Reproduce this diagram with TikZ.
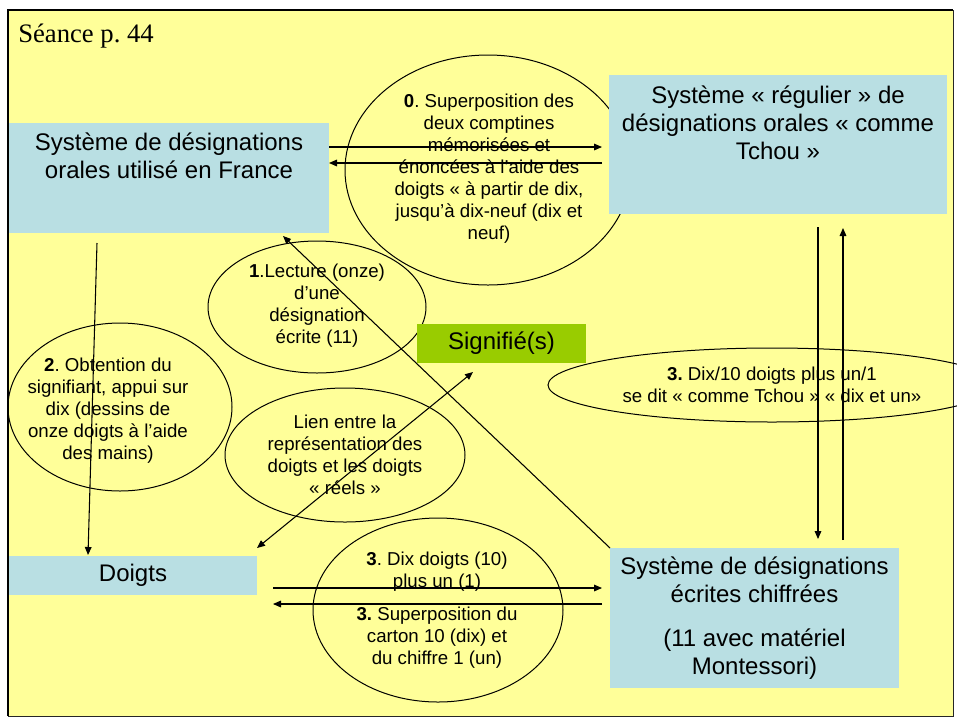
\documentclass[tikz,border=0pt]{standalone}
\usepackage{fontspec}
\setmainfont{Liberation Sans}
\newfontfamily\seriffont{Liberation Serif}
\usetikzlibrary{arrows.meta,calc}
\definecolor{bgyellow}{HTML}{FFFF99}
\definecolor{boxblue}{RGB}{185,223,227}
\definecolor{siggreen}{HTML}{99CC00}
\frenchspacing
\begin{document}
\begin{tikzpicture}[x=0.75pt,y=-0.75pt,
  box/.style={fill=boxblue, draw=none, inner sep=0pt, outer sep=0pt},
  boxtxt/.style={font=\fontsize{18}{21}\selectfont, align=center, inner sep=0pt},
  elltxt/.style={font=\fontsize{14}{16.5}\selectfont, align=center, inner sep=0pt},
  arr/.style={-{Triangle[length=6pt,width=5pt]}, line width=0.8pt},
  arrtwo/.style={{Triangle[length=6pt,width=5pt]}-{Triangle[length=6pt,width=5pt]}, line width=0.8pt},
  ell/.style={line width=0.75pt}]
\useasboundingbox (0,0) rectangle (957,726);
\clip (0,0) rectangle (957,726);
% background frame
\fill[bgyellow] (8,10) rectangle (953,716);
\draw[line width=0.75pt, black!85] (8,716) -- (953,716) -- (953,10);
\draw[line width=1.5pt] (8,716) -- (8,10) -- (953,10);
\node[font=\seriffont\fontsize{20}{24}\selectfont, anchor=base west, inner sep=0pt] (title) at (18,42) {Séance p. 44};
% ellipses
\draw[ell] (488,170) ellipse [x radius=107.25pt, y radius=86.25pt];
\draw[ell] (317,307) ellipse [x radius=81.75pt, y radius=49.5pt];
\draw[ell] (120,407) ellipse [x radius=84pt, y radius=63pt];
\draw[ell] (345,455) ellipse [x radius=90pt, y radius=50.25pt];
\draw[ell] (772,385) ellipse [x radius=168pt, y radius=27.75pt];
\draw[ell] (438,610) ellipse [x radius=93.75pt, y radius=69pt];
% ellipse texts
\node[elltxt] (t0) at (489,168.8) {\textbf{0}. Superposition des\\deux comptines\\mémorisées et\\énoncées à l’aide des\\doigts « à partir de dix,\\jusqu’à dix-neuf (dix et\\neuf)};
\node[elltxt] (t1) at (317,305.7) {\textbf{1}.Lecture (onze)\\d’une\\désignation\\écrite (11)};
\node[elltxt] (t2) at (108,410.2) {\textbf{2}. Obtention du\\signifiant, appui sur\\dix (dessins de\\onze doigts à l’aide\\des mains)};
\node[elltxt] (tL) at (345,455) {Lien entre la\\représentation des\\doigts et les doigts\\« réels »};
\node[elltxt] (t3a) at (772,385.3) {\textbf{3.} Dix/10 doigts plus un/1\\se dit « comme Tchou » « dix et un»};
\node[elltxt] (t3b) at (437,571.2) {\textbf{3}. Dix doigts (10)\\plus un (1)};
\node[elltxt] (t3c) at (437,637.7) {\textbf{3.} Superposition du\\carton 10 (dix) et\\du chiffre 1 (un)};
% boxes
\node[box, minimum width=240pt, minimum height=82.5pt] (boxA) at (169,178) {};
\node[boxtxt] (tA) at (169,156) {Système de désignations\\orales utilisé en France};
\node[box, minimum width=253.5pt, minimum height=104.25pt] (boxB) at (778,144.5) {};
\node[boxtxt] (tB) at (778,122.6) {Système « régulier » de\\désignations orales « comme\\Tchou »};
\node[box, boxtxt, minimum width=186pt, minimum height=29.25pt] (boxC) at (133,575.5) {Doigts};
\node[box, boxtxt, minimum width=216.75pt, minimum height=105pt] (boxD) at (754.5,618) {Système de désignations\\écrites chiffrées\\[12pt](11 avec matériel\\Montessori)};
\node[box, boxtxt, fill=siggreen, minimum width=126.75pt, minimum height=29.25pt] (sig) at (501.5,343.5) {Signifié(s)};
% connectors
\draw[arr] (boxA.east |- 0,147) -- ($(boxB.west |- 0,147)+(-7,0)$);
\draw[arr] ($(boxB.west |- 0,163)+(-7,0)$) -- (boxA.east |- 0,163);
\draw[arr] ($(boxA.south west)+(88,10)$) -- ($(boxC.north west)+(79,-1)$);
\draw[arr] (boxD.north west) -- ($(boxA.south west)+(274,3)$);
\draw[arrtwo] ($(boxC.north east)+(0,-8)$) -- ($(sig.south west)+(56,9)$);
\draw[arr] ($(boxB.south west)+(209,13)$) -- ($(boxD.north west)+(208,-9)$);
\draw[arr] ($(boxD.north west)+(233,-8)$) -- ($(boxB.south west)+(234,14)$);
\draw[arr] ($(boxC.east |- 0,588)+(16,0)$) -- ($(boxD.west |- 0,588)+(-8,0)$);
\draw[arr] ($(boxD.west |- 0,604)+(-8,0)$) -- ($(boxC.east |- 0,604)+(16,0)$);
\end{tikzpicture}
\end{document}
